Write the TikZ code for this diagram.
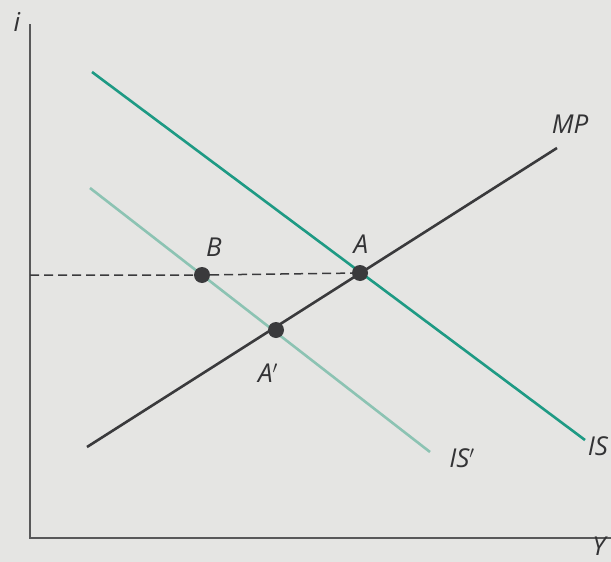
\documentclass[tikz,border=0pt]{standalone}
\usepackage{fontspec}
\setmainfont{Open Sans}
\definecolor{bg}{HTML}{E5E5E3}
\definecolor{isc}{HTML}{1E9A84}
\definecolor{isp}{HTML}{8CC3B3}
\definecolor{mpc}{HTML}{3A3A3C}
\definecolor{txt}{HTML}{333335}
\tikzset{
  axis/.style={draw=mpc!85, line width=1.5pt},
  curve/.style={line width=2.6pt},
  dot/.style={circle, fill=mpc, inner sep=0pt, minimum size=16pt},
  lbl/.style={text=txt, font=\fontsize{26}{26}\selectfont\itshape, inner sep=0pt},
}
\begin{document}
\begin{tikzpicture}[x=1pt,y=-1pt]
\fill[bg] (0,0) rectangle (611,562);
\clip (0,0) rectangle (611,562);
\useasboundingbox (0,0) rectangle (611,562);
% axes
\coordinate (o) at (30,538);
\coordinate (ytop) at (30,24);
\coordinate (xend) at (620,538);
\draw[axis] (ytop) -- (o) -- (xend);
\node[lbl] (ilab) at (17,22) {i};
\node[lbl] (ylab) at (599,546) {Y};
% curves
\coordinate (is1) at (92,72);
\coordinate (is2) at (585,440);
\coordinate (isp1) at (90,188);
\coordinate (isp2) at (430,452);
\coordinate (mp1) at (87,447);
\coordinate (mp2) at (557,148);
\draw[curve, isp] (isp1) -- (isp2);
\draw[curve, isc] (is1) -- (is2);
\draw[curve, mpc] (mp1) -- (mp2);
% points
\node[dot] (A) at (360,273) {};
\node[dot] (B) at (202,275) {};
\node[dot] (Ap) at (276,330) {};
\coordinate (yA) at (30,275);
\draw[mpc, line width=1.5pt, dash pattern=on 9pt off 5pt] (yA) -- (B) -- (A);
% labels
\node[lbl] (Alab) at (361,244) {A};
\node[lbl] (Blab) at (214,247) {B};
\node[lbl] (Aplab) at (268,373) {A$'$};
\node[lbl] (mplab) at (570,124) {MP};
\node[lbl] (islab) at (598,446) {IS};
\node[lbl] (isplab) at (462,458) {IS$'$};
\end{tikzpicture}
\end{document}
